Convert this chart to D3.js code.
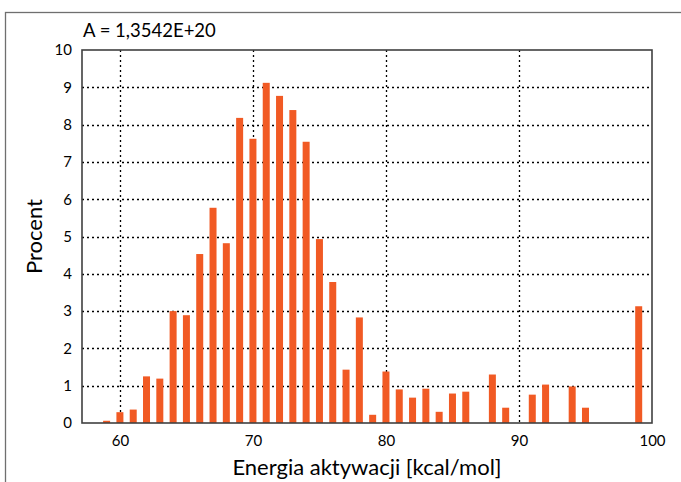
<!DOCTYPE html>
<html>
<head>
<meta charset="utf-8">
<script src="https://cdn.jsdelivr.net/npm/d3@7"></script>
<style>
  body { margin: 0; background: #fff; }
  svg { display: block; font-family: Lato, "Open Sans", sans-serif; }
</style>
</head>
<body>
<div id="chart"></div>
<script>
// Energia aktywacji [kcal/mol] -> procent
const energies = [59, 60, 61, 62, 63, 64, 65, 66, 67, 68, 69, 70, 71, 72, 73, 74, 75, 76, 77, 78,
  79, 80, 81, 82, 83, 84, 85, 86, 88, 89, 91, 92, 94, 95, 99]
const percents = [0.06, 0.29, 0.36, 1.25, 1.19, 3.0, 2.89, 4.53, 5.77, 4.82, 8.18, 7.62, 9.12, 8.77, 8.39, 7.54, 4.93, 3.78, 1.43, 2.83,
  0.22, 1.38, 0.9, 0.68, 0.92, 0.3, 0.79, 0.84, 1.3, 0.41, 0.76, 1.03, 0.98, 0.41, 3.13]
const xTicks = [60, 70, 80, 90, 100]
const yTicks = [0, 1, 2, 3, 4, 5, 6, 7, 8, 9, 10]
const annotation = "A = 1,3542E+20"

const width = 681, height = 482
const margin = {top: 50, right: 29, bottom: 59, left: 82}

const svg = d3.select("#chart").append("svg")
  .attr("width", width)
  .attr("height", height)

// outer frame
svg.append("rect")
  .attr("x", 5.5).attr("y", 12.5)
  .attr("width", 720).attr("height", 520)
  .attr("fill", "none")
  .attr("stroke", "#6f6f6f")
  .attr("stroke-width", 1.3)

const x = d3.scaleLinear([57.15, 100], [margin.left, width - margin.right])
const y = d3.scaleLinear([0, 10], [height - margin.bottom, margin.top])

// grid
const grid = svg.append("g")
  .attr("stroke", "#000")
  .attr("stroke-width", 1.3)
  .attr("stroke-dasharray", "2,3")

grid.selectAll("line.h")
  .data(yTicks.filter(d => d > 0 && d < 10))
  .join("line")
    .attr("class", "h")
    .attr("x1", margin.left).attr("x2", width - margin.right)
    .attr("y1", d => Math.round(y(d)) + 0.5).attr("y2", d => Math.round(y(d)) + 0.5)

grid.selectAll("line.v")
  .data(xTicks.filter(d => d < 100))
  .join("line")
    .attr("class", "v")
    .attr("y1", margin.top).attr("y2", height - margin.bottom)
    .attr("x1", d => Math.round(x(d)) + 0.5).attr("x2", d => Math.round(x(d)) + 0.5)

// bars
const barW = 7
svg.append("g")
  .attr("fill", "#f15a24")
  .selectAll("rect")
  .data(energies.map((e, i) => [e, percents[i]]))
  .join("rect")
    .attr("x", d => x(d[0]) - barW / 2)
    .attr("width", barW)
    .attr("y", d => y(d[1]))
    .attr("height", d => y(0) - y(d[1]))

// plot border
svg.append("rect")
  .attr("x", margin.left).attr("y", margin.top)
  .attr("width", width - margin.right - margin.left)
  .attr("height", height - margin.bottom - margin.top)
  .attr("fill", "none")
  .attr("stroke", "#404040")
  .attr("stroke-width", 1.6)

// axes
const xAxis = svg.append("g")
  .attr("transform", `translate(0,${height - margin.bottom})`)
  .call(d3.axisBottom(x).tickValues(xTicks).tickSize(0).tickPadding(12))
xAxis.select(".domain").remove()
xAxis.selectAll("text").attr("font-size", 15).attr("fill", "#000").attr("font-family", "Lato, sans-serif")

const yAxis = svg.append("g")
  .attr("transform", `translate(${margin.left},0)`)
  .call(d3.axisLeft(y).tickValues(yTicks).tickSize(0).tickPadding(10))
yAxis.select(".domain").remove()
yAxis.selectAll("text").attr("font-size", 15).attr("fill", "#000").attr("font-family", "Lato, sans-serif")

// labels
svg.append("text")
  .attr("x", (margin.left + width - margin.right) / 2)
  .attr("y", 475)
  .attr("text-anchor", "middle")
  .attr("font-size", 22)
  .text("Energia aktywacji [kcal/mol]")

svg.append("text")
  .attr("transform", `translate(42,${(margin.top + height - margin.bottom) / 2}) rotate(-90)`)
  .attr("text-anchor", "middle")
  .attr("font-size", 22)
  .text("Procent")

svg.append("text")
  .attr("x", 83)
  .attr("y", 37)
  .attr("font-size", 18.5)
  .text(annotation)
</script>
</body>
</html>
